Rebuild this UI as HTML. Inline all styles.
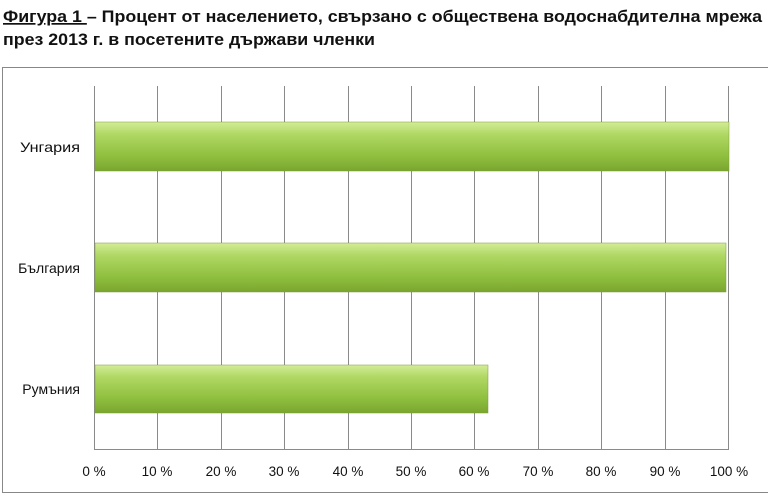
<!DOCTYPE html><html><head><meta charset="utf-8"><style>body{margin:0;background:#fff;width:768px;height:494px;overflow:hidden;font-family:"Liberation Sans","DejaVu Sans",sans-serif}</style></head><body>
<svg width="768" height="494" xmlns="http://www.w3.org/2000/svg">
<defs><linearGradient id="g" x1="0" y1="0" x2="0" y2="1"><stop offset="0" stop-color="#d3ec97"/><stop offset="0.25" stop-color="#b0d864"/><stop offset="0.7" stop-color="#8fbf3e"/><stop offset="1" stop-color="#7aa52f"/></linearGradient></defs>
<text x="3" y="22" font-size="17" font-weight="bold" fill="#111" textLength="759" lengthAdjust="spacingAndGlyphs"><tspan text-decoration="underline">Фигура 1 </tspan>– Процент от населението, свързано с обществена водоснабдителна мрежа</text>
<text x="3" y="45" font-size="17" font-weight="bold" fill="#111" textLength="372" lengthAdjust="spacingAndGlyphs">през 2013 г. в посетените държави членки</text>
<rect x="2.5" y="67.5" width="770" height="425" fill="none" stroke="#888"/>
<g stroke="#8a8a8a" stroke-width="1">
<line x1="94.5" y1="86" x2="94.5" y2="449"/><line x1="157.5" y1="86" x2="157.5" y2="449"/><line x1="221.5" y1="86" x2="221.5" y2="449"/><line x1="284.5" y1="86" x2="284.5" y2="449"/><line x1="348.5" y1="86" x2="348.5" y2="449"/><line x1="411.5" y1="86" x2="411.5" y2="449"/><line x1="474.5" y1="86" x2="474.5" y2="449"/><line x1="538.5" y1="86" x2="538.5" y2="449"/><line x1="601.5" y1="86" x2="601.5" y2="449"/><line x1="665.5" y1="86" x2="665.5" y2="449"/><line x1="728.5" y1="86" x2="728.5" y2="449"/>
<line x1="94" y1="449.5" x2="729" y2="449.5"/></g>
<g fill="url(#g)" stroke="#7a9a38" stroke-width="0.5">
<rect x="95" y="122" width="634" height="49"/><rect x="95" y="243" width="631" height="49"/><rect x="95" y="365" width="393" height="48"/></g>
<g font-size="14" fill="#111" text-anchor="end"><text x="80" y="152" textLength="60" lengthAdjust="spacingAndGlyphs">Унгария</text><text x="80" y="273">България</text><text x="80" y="394">Румъния</text></g>
<g font-size="13.5" fill="#111" text-anchor="middle"><text x="94" y="476">0 %</text><text x="157" y="476">10 %</text><text x="221" y="476">20 %</text><text x="284" y="476">30 %</text><text x="348" y="476">40 %</text><text x="411" y="476">50 %</text><text x="474" y="476">60 %</text><text x="538" y="476">70 %</text><text x="601" y="476">80 %</text><text x="665" y="476">90 %</text><text x="729" y="476">100 %</text></g>
</svg></body></html>
